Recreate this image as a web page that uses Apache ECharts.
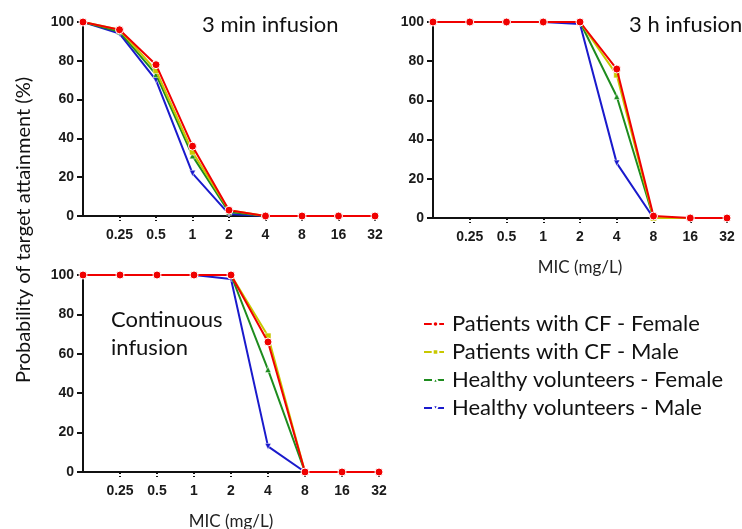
<!DOCTYPE html>
<html>
<head>
<meta charset="utf-8">
<script src="https://cdn.jsdelivr.net/npm/echarts@6/dist/echarts.min.js"></script>
<style>
  html, body { margin: 0; padding: 0; background: #fff; }
  #chart { width: 742px; height: 529px; }
</style>
</head>
<body>
<div id="chart"></div>
<script>
// MIC categories (first one sits on the y axis and has no label)
var mic = ['0.125', '0.25', '0.5', '1', '2', '4', '8', '16', '32'];
var groups = ['Patients with CF - Female', 'Patients with CF - Male', 'Healthy volunteers - Female', 'Healthy volunteers - Male'];
var panelTitles = ['3 min infusion', '3 h infusion', 'Continuous\ninfusion'];

// 3 min infusion
var min3CfFemale = [100, 96, 78, 36, 3, 0, 0, 0, 0];
var min3CfMale = [100, 96, 75, 33, 3, 0, 0, 0, 0];
var min3HvFemale = [100, 95, 73, 31, 2, 0, 0, 0, 0];
var min3HvMale = [100, 94, 70, 22, 1, 0, 0, 0, 0];

// 3 h infusion
var h3CfFemale = [100, 100, 100, 100, 100, 76, 1, 0, 0];
var h3CfMale = [100, 100, 100, 100, 100, 73, 0, 0, 0];
var h3HvFemale = [100, 100, 100, 100, 100, 62, 0, 0, 0];
var h3HvMale = [100, 100, 100, 100, 99, 28, 0, 0, 0];

// continuous infusion
var contCfFemale = [100, 100, 100, 100, 100, 66, 0, 0, 0];
var contCfMale = [100, 100, 100, 100, 100, 69, 0, 0, 0];
var contHvFemale = [100, 100, 100, 100, 100, 52, 0, 0, 0];
var contHvMale = [100, 100, 100, 100, 98, 13, 0, 0, 0];

var panels = [
    [min3CfFemale, min3CfMale, min3HvFemale, min3HvMale],
    [h3CfFemale, h3CfMale, h3HvFemale, h3HvMale],
    [contCfFemale, contCfMale, contHvFemale, contHvMale]
];

var colors = ['#f00000', '#c8c800', '#1e8c1e', '#1a1acc'];
var symbols = ['circle', 'rect', 'triangle', 'triangle'];
var symbolSizes = [8, 6, 6, 6];
var symbolRot = [0, 0, 0, 180];

var chartDom = document.getElementById('chart');
var myChart = echarts.init(chartDom);

// outerBoundsMode none: keep the plot boxes where they are
var grids = [
    { left: 83, top: 22, width: 292, height: 194, outerBoundsMode: 'none' },
    { left: 433, top: 22, width: 294, height: 196, outerBoundsMode: 'none' },
    { left: 83, top: 275, width: 296, height: 197, outerBoundsMode: 'none' }
];

var xAxes = [], yAxes = [], series = [];
grids.forEach(function (g, i) {
    xAxes.push({
        type: 'category',
        gridIndex: i,
        data: mic,
        boundaryGap: false,
        name: i === 0 ? '' : 'MIC (mg/L)',
        nameLocation: 'middle',
        nameGap: 41,
        nameTextStyle: { fontFamily: 'Lato', fontSize: 17, color: '#222' },
        axisLine: { lineStyle: { color: '#111', width: 2 } },
        axisTick: {
            alignWithLabel: true,
            length: 5,
            interval: function (idx) { return idx > 0; },
            lineStyle: { color: '#111', width: 2, type: 'dotted' }
        },
        axisLabel: {
            interval: function (idx) { return idx > 0; },
            margin: 12,
            fontFamily: 'Liberation Sans',
            fontWeight: 'bold',
            fontSize: 14,
            color: '#1a1a1a'
        },
        splitLine: { show: false }
    });
    yAxes.push({
        type: 'value',
        gridIndex: i,
        min: 0,
        max: 100,
        interval: 20,
        axisLine: { show: true, lineStyle: { color: '#111', width: 2 } },
        axisTick: { show: true, length: 6, lineStyle: { color: '#111', width: 2 } },
        axisLabel: {
            margin: 9,
            fontFamily: 'Liberation Sans',
            fontWeight: 'bold',
            fontSize: 14,
            color: '#1a1a1a'
        },
        splitLine: { show: false }
    });
    // draw blue first so red ends up on top
    for (var k = 3; k >= 0; k--) {
        series.push({
            name: groups[k],
            type: 'line',
            xAxisIndex: i,
            yAxisIndex: i,
            data: panels[i][k],
            color: colors[k],
            symbol: symbols[k],
            symbolSize: symbolSizes[k],
            symbolRotate: symbolRot[k],
            showAllSymbol: true,
            lineStyle: { width: 2, color: colors[k] },
            itemStyle: { color: colors[k], borderColor: '#fff', borderWidth: k === 0 ? 1 : 0.5 },
            z: 10 - k
        });
    }
});

var option = {
    animation: false,
    backgroundColor: '#fff',
    grid: grids,
    xAxis: xAxes,
    yAxis: yAxes,
    series: series,
    legend: {
        data: groups,
        orient: 'vertical',
        left: 418,
        top: 308,
        itemWidth: 23,
        itemHeight: 7,
        itemGap: 6,
        lineStyle: { type: 'dashed', width: 2 },
        textStyle: { fontFamily: 'Lato', fontSize: 22, lineHeight: 22, color: '#111' }
    },
    graphic: [
        {
            type: 'text', left: 202, top: 14,
            style: { text: panelTitles[0], font: '22px Lato', fill: '#111' }
        },
        {
            type: 'text', left: 629, top: 14,
            style: { text: panelTitles[1], font: '22px Lato', fill: '#111' }
        },
        {
            type: 'text', left: 111, top: 306,
            style: { text: panelTitles[2], font: '22px Lato', lineHeight: 28, fill: '#111' }
        },
        {
            type: 'text', x: 24, y: 230, rotation: Math.PI / 2,
            style: {
                text: 'Probability of target attainment (%)',
                font: '20px Lato', fill: '#111',
                textAlign: 'center', textVerticalAlign: 'middle'
            }
        }
    ]
};

option && myChart.setOption(option);
</script>
</body>
</html>
